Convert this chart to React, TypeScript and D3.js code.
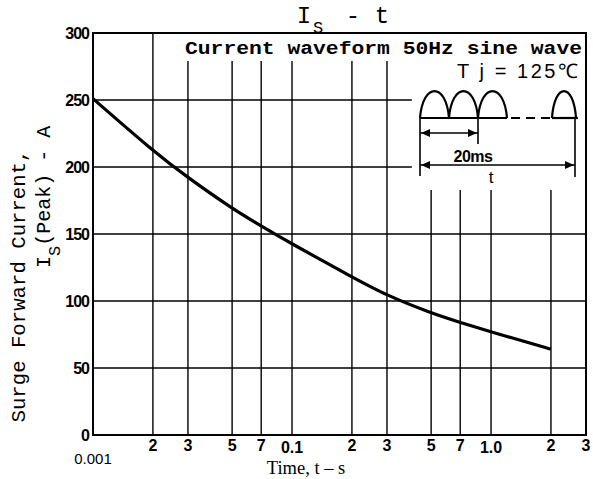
import React from "react";
import * as d3 from "d3";

// ---- data ----
const times = [0.01, 0.02, 0.03, 0.05, 0.07, 0.1, 0.2, 0.3, 0.5, 0.7, 1.0, 2.0];
const current = [251, 212, 192, 169, 156, 142.5, 118, 104, 91, 84, 77, 64];

const yTicks = [0, 50, 100, 150, 200, 250, 300];
const xGrid = [0.02, 0.03, 0.05, 0.07, 0.1, 0.2, 0.3, 0.5, 0.7, 1.0, 2.0];
const xTickLabels = ["0.001", "2", "3", "5", "7", "0.1", "2", "3", "5", "7", "1.0", "2", "3"];
const xTickValues = [0.01, 0.02, 0.03, 0.05, 0.07, 0.1, 0.2, 0.3, 0.5, 0.7, 1.0, 2.0, 3.0];

const W = 593;
const H = 479;
const L = 93, R = 586, T = 33, B = 435;

export default function App() {
  const x = d3.scaleLog().domain([0.01, 3]).range([L, R]);
  const y = d3.scaleLinear().domain([0, 300]).range([B, T]);

  const pts = times.map((t, i) => [t, current[i]] as [number, number]);
  const line = d3
    .line<[number, number]>()
    .x((d) => x(d[0]))
    .y((d) => y(d[1]))
    .curve(d3.curveBasis);

  const insetLeft = x(0.4);
  const textBandY = T + 28;
  const insetBottomY = T + 157;

  // inset waveform geometry
  const ix0 = 420, base = 118, hh = 27, hw = 29;
  const hump = (x0: number, w: number) =>
    `M${x0},${base} C${x0 + w * 0.1},${base - hh * 1.33} ${x0 + w * 0.9},${base - hh * 1.33} ${x0 + w},${base}`;
  const humpStarts = [ix0, ix0 + hw, ix0 + 2 * hw];
  const lastHumpX = 552;
  const arrowHead = (xTip: number, yy: number, dir: number) =>
    `M${xTip},${yy} L${xTip + dir * 9},${yy - 4} L${xTip + dir * 9},${yy + 4} Z`;

  const mono = "'Liberation Mono', 'DejaVu Sans Mono', monospace";
  const sans = "'Liberation Sans', Arial, sans-serif";

  return (
    <svg width={W} height={H} style={{ position: "absolute", left: 0, top: 0, background: "#fff" }}>
      <rect x={0} y={0} width={W} height={H} fill="#fff" />
      {/* horizontal gridlines */}
      {yTicks.filter((v) => v > 0 && v < 300).map((v) => (
        <line
          key={"h" + v}
          x1={L}
          x2={v >= 200 ? insetLeft : R}
          y1={y(v)}
          y2={y(v)}
          stroke="#000"
          strokeWidth={1.4}
        />
      ))}
      {/* vertical gridlines */}
      {xGrid.map((t) => (
        <line
          key={"v" + t}
          x1={x(t)}
          x2={x(t)}
          y1={t <= 0.02 ? T : t <= 0.3 ? textBandY : insetBottomY}
          y2={B}
          stroke="#000"
          strokeWidth={1.4}
        />
      ))}
      {/* frame */}
      <rect x={L} y={T} width={R - L} height={B - T} fill="none" stroke="#000" strokeWidth={2} />

      {/* curve */}
      <path d={line(pts) || ""} fill="none" stroke="#000" strokeWidth={3.2} />

      {/* y tick labels */}
      {yTicks.map((v) => (
        <text
          key={"yl" + v}
          x={89}
          y={y(v)}
          dy="0.36em"
          textAnchor="end"
          fontFamily={sans}
          fontWeight="bold"
          fontSize={16}
          letterSpacing={-1}
        >
          {v}
        </text>
      ))}

      {/* x tick labels */}
      {xTickValues.map((t, i) => {
        const lab = xTickLabels[i];
        const first = i === 0;
        const dotted = lab.includes(".") && !first;
        return (
          <text
            key={"xl" + i}
            x={x(t)}
            y={first ? 464 : dotted ? 453 : 451}
            textAnchor="middle"
            fontFamily={sans}
            fontWeight={first ? "normal" : "bold"}
            fontSize={first ? 15 : 16}
          >
            {lab}
          </text>
        );
      })}

      {/* x axis title */}
      <text x={306} y={474} textAnchor="middle" fontFamily="'Liberation Serif', 'Times New Roman', serif" fontSize={18.5}>
        Time, t – s
      </text>

      {/* y axis title */}
      <text
        transform={`translate(25, ${286}) rotate(-90)`}
        textAnchor="middle"
        fontFamily={mono}
        fontSize={20}
        textLength={273}
        lengthAdjust="spacingAndGlyphs"
      >
        Surge Forward Current,
      </text>
      <text transform={`translate(50, ${268}) rotate(-90)`} fontFamily={mono} fontSize={20}>
        I<tspan fontSize={17} dy={10}>S</tspan>
        <tspan dy={-10}>(Peak) - A</tspan>
      </text>

      {/* chart title */}
      <text x={304} y={23} textAnchor="middle" fontFamily={mono} fontSize={24}>I</text>
      <text x={318} y={33} textAnchor="middle" fontFamily={mono} fontSize={17}>S</text>
      <text x={353} y={23} textAnchor="middle" fontFamily={mono} fontSize={24}>-</text>
      <text x={382} y={23} textAnchor="middle" fontFamily={mono} fontSize={24}>t</text>

      {/* condition text */}
      <text
        x={185}
        y={54}
        fontFamily={mono}
        fontWeight="bold"
        fontSize={19}
        textLength={397}
        lengthAdjust="spacingAndGlyphs"
      >
        Current waveform 50Hz sine wave
      </text>
      <text x={457} y={78} fontFamily={sans} fontSize={20} textLength={121} lengthAdjust="spacing">
        T j = 125℃
      </text>

      {/* inset waveform */}
      <g stroke="#000" fill="none" strokeWidth={2.2}>
        {humpStarts.map((s, i) => (
          <path key={"hp" + i} d={hump(s, hw)} />
        ))}
        <path d={hump(lastHumpX, 24)} />
        <line x1={ix0} x2={ix0 + 3 * hw} y1={base} y2={base} />
        <line x1={ix0 + 3 * hw} x2={lastHumpX} y1={base} y2={base} strokeDasharray="9,6" strokeDashoffset={-4} />
        <line x1={lastHumpX} x2={578} y1={base} y2={base} />
        <line x1={ix0} x2={ix0} y1={base} y2={176} strokeWidth={1.6} />
        <line x1={478} x2={478} y1={base} y2={144} strokeWidth={1.6} />
        <line x1={575} x2={575} y1={base} y2={177} strokeWidth={1.6} />
        <line x1={ix0} x2={478} y1={133} y2={133} strokeWidth={1.6} />
        <line x1={ix0} x2={575} y1={165} y2={165} strokeWidth={1.6} />
      </g>
      <g fill="#000">
        <path d={arrowHead(ix0 + 1, 133, 1)} />
        <path d={arrowHead(477, 133, -1)} />
        <path d={arrowHead(ix0 + 1, 165, 1)} />
        <path d={arrowHead(574, 165, -1)} />
      </g>
      <text x={473} y={162} textAnchor="middle" fontFamily={sans} fontWeight="bold" fontSize={16} letterSpacing={-0.5}>
        20ms
      </text>
      <text x={491} y={183} textAnchor="middle" fontFamily={sans} fontSize={17}>
        t
      </text>
    </svg>
  );
}
